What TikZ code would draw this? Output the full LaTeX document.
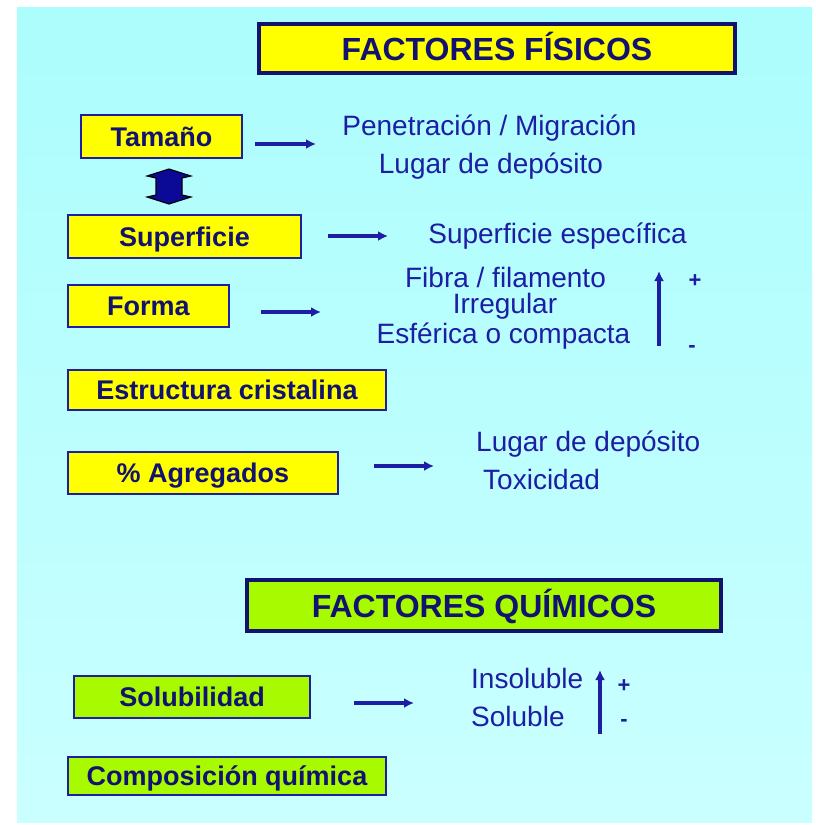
\documentclass[tikz,border=0pt]{standalone}
\usepackage{fontspec}
\setmainfont{Liberation Sans}
\usetikzlibrary{arrows.meta}
\definecolor{fondoA}{RGB}{172,253,253}
\definecolor{fondoB}{RGB}{202,255,255}
\definecolor{azul}{RGB}{30,30,165}
\definecolor{marino}{RGB}{18,18,112}
\definecolor{amarillo}{RGB}{255,255,0}
\definecolor{verde}{RGB}{168,250,0}
\definecolor{bloque}{RGB}{10,10,150}

\begin{document}
\begin{tikzpicture}[x=1pt,y=-1pt]
            \tikzstyle{titulo} = [draw=marino, line width=3.5pt, inner sep=0pt, text=marino, text height=23pt, text depth=0pt, font=\fontsize{32}{34}\selectfont\bfseries]
            \tikzstyle{caja} = [draw=azul, line width=2.2pt, inner sep=0pt, text=marino, text height=19.5pt, text depth=0pt, font=\fontsize{27}{29}\selectfont\bfseries]
            \tikzstyle{texto} = [text=azul, inner sep=0pt, text height=20pt, text depth=0pt, font=\fontsize{28}{30}\selectfont]
            \tikzstyle{signo} = [text=azul, inner sep=0pt, font=\fontsize{22}{24}\selectfont\bfseries]
            \tikzstyle{flecha} = [draw=azul, line width=3.2pt, -{Latex[length=10pt,width=10pt]}]

            % fondo
            \useasboundingbox (0,0) rectangle (815,825);
            \shade[top color=fondoA, bottom color=fondoB] (17,7) rectangle (812,822);

            % titulos
            \node[titulo, fill=amarillo, minimum width=476, minimum height=49] (fisicos) at (497,48.5) {FACTORES FÍSICOS};
            \node[titulo, fill=verde, minimum width=474, minimum height=51] (quimicos) at (484,605.5) {FACTORES QUÍMICOS};

            % factores
            \node[caja, fill=amarillo, minimum width=161, minimum height=43] (tam) at (161.5,136.5) {Tamaño};
            \node[caja, fill=amarillo, minimum width=233, minimum height=43] (sup) at (184.5,236.5) {Superficie};
            \node[caja, fill=amarillo, minimum width=161, minimum height=42] (forma) at (148.5,306) {Forma};
            \node[caja, fill=amarillo, minimum width=318, minimum height=40] (est) at (227,390) {Estructura cristalina};
            \node[caja, fill=amarillo, minimum width=270, minimum height=42] (agr) at (203,473) {\% Agregados};
            \node[caja, fill=verde, minimum width=236, minimum height=42] (sol) at (192,697) {Solubilidad};
            \node[caja, fill=verde, minimum width=318, minimum height=38] (comp) at (227,776) {Composición química};

            % efectos
            \node[texto] (pen) at (489.5,125) {Penetración / Migración};
            \node[texto] (lug) at (491,163) {Lugar de depósito};
            \node[texto] (supesp) at (557.5,233) {Superficie específica};
            \node[texto] (fib) at (505.5,277) {Fibra / filamento};
            \node[texto] (irr) at (505,303) {Irregular};
            \node[texto] (esf) at (503.5,333) {Esférica o compacta};
            \node[texto, anchor=west] (lug2) at (476,441) {Lugar de depósito};
            \node[texto, anchor=west] (tox) at (483,479) {Toxicidad};
            \node[texto, anchor=west] (ins) at (471,678) {Insoluble};
            \node[texto, anchor=west] (solu) at (471,716) {Soluble};

            % signos
            \node[signo] (mas1) at (695,281) {+};
            \node[signo] (menos1) at (692,349) {-};
            \node[signo] (mas2) at (624,686) {+};
            \node[signo] (menos2) at (624,723) {-};

            % flechas
            \coordinate (a1) at (255,144); \coordinate (b1) at (316,144);
            \coordinate (a2) at (328,236); \coordinate (b2) at (388,236);
            \coordinate (a3) at (261,312); \coordinate (b3) at (321,312);
            \coordinate (a4) at (374,466); \coordinate (b4) at (434,466);
            \coordinate (a5) at (354,703); \coordinate (b5) at (414,703);
            \draw[flecha] (a1) -- (b1);
            \draw[flecha] (a2) -- (b2);
            \draw[flecha] (a3) -- (b3);
            \draw[flecha] (a4) -- (b4);
            \draw[flecha] (a5) -- (b5);

            % escalas
            \coordinate (e1) at (659,346); \coordinate (f1) at (659,271);
            \coordinate (e2) at (600,734); \coordinate (f2) at (600,670);
            \draw[flecha] (e1) -- (f1);
            \draw[flecha] (e2) -- (f2);

            % doble flecha
            \draw[fill=bloque, draw=black, line width=1.1pt] (169,169) -- (191,176) -- (182,178) -- (182,195) -- (191,197) -- (169,204) -- (147,197) -- (156,195) -- (156,178) -- (147,176) -- cycle;
        \end{tikzpicture}
\end{document}
